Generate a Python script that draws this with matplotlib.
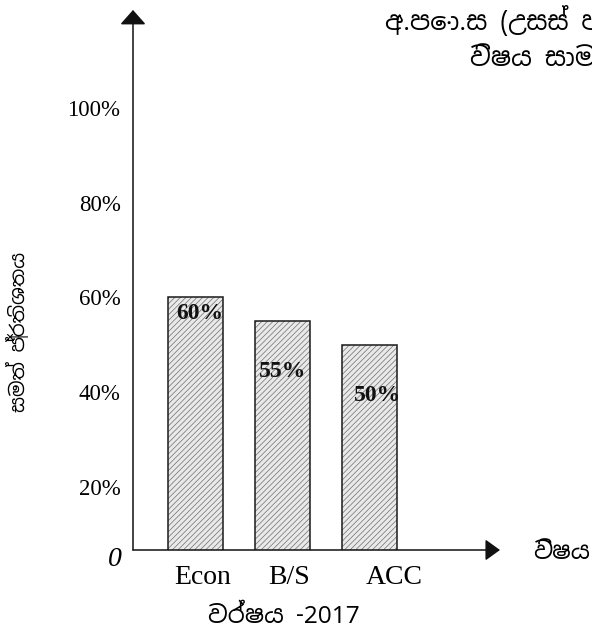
import matplotlib
matplotlib.use("Agg")
import matplotlib.pyplot as plt
import matplotlib.transforms as mtransforms
from matplotlib import font_manager

# Data
subjects = ["Econ", "B/S", "ACC"]
pass_rates = [60, 55, 50]
y_ticks = [20, 40, 60, 80, 100]
y_tick_labels = ["20%", "40%", "60%", "80%", "100%"]

title_line1 = "අ.පො.ස (උසස් පෙළ)"
title_line2 = "විෂය සාමාර්ථ ප්‍රතිශතය"
y_title = "සමත් ප්‍රතිශතය"
x_title = "විෂය"
year_label = "වර්ෂය -2017"

# Fonts: use a Sinhala face if one happens to be installed
sinhala = sorted({f.name for f in font_manager.fontManager.ttflist if "Sinhala" in f.name})
serif = ["Liberation Serif", "DejaVu Serif"]
sin_family = sinhala[:1] + serif + ["DejaVu Sans"]
plt.rcParams["font.family"] = serif
plt.rcParams["hatch.linewidth"] = 0.5

W, H = 592, 635
fig = plt.figure(figsize=(W / 100, H / 100), dpi=100)
ax = fig.add_axes([133 / W, (H - 550) / H, 367 / W, 540 / H])

x = list(range(len(subjects)))
ax.bar(x, pass_rates, width=0.632, color="#e9e9e9", edgecolor="#6e6e6e",
       hatch="//////", linewidth=0)
ax.bar(x, pass_rates, width=0.632, fill=False, edgecolor="#1a1a1a", linewidth=1.1)

ax.set_xlim(-0.718, 3.50)
ax.set_ylim(6.70, 120.68)

# Value labels inside the bars
label_dx = [0.05, 0.0, 0.09]
label_dy = [-3.3, -10.7, -10.6]
for i, v in enumerate(pass_rates):
    ax.text(x[i] + label_dx[i], v + label_dy[i], f"{v}%", ha="center", va="center",
            fontsize=17, fontweight="bold", color="#111111")

# Ticks
ax.set_yticks(y_ticks, y_tick_labels)
ax.set_xticks(x, subjects)
ax.tick_params(axis="y", length=0, pad=9, labelsize=16.5)
ax.tick_params(axis="x", length=0, pad=11, labelsize=20)
shift_pts = [5, 4.5, 18]
for lab, dx in zip(ax.get_xticklabels(), shift_pts):
    lab.set_transform(lab.get_transform() + mtransforms.ScaledTranslation(dx / 72, 0, fig.dpi_scale_trans))

ax.annotate("0", xy=(0, 0), xycoords="axes fraction", xytext=(-8, -6.5),
            textcoords="offset points", ha="right", va="center",
            fontsize=20, fontstyle="italic")

# Axes drawn as arrows
for s in ax.spines.values():
    s.set_visible(False)
ax.annotate("", xy=(0, 1), xytext=(0, 0), xycoords="axes fraction",
            arrowprops=dict(arrowstyle="-|>,head_length=0.9,head_width=0.8",
                            color="#111111", lw=1.1, shrinkA=0, shrinkB=0))
ax.annotate("", xy=(1, 0), xytext=(0, 0), xycoords="axes fraction",
            arrowprops=dict(arrowstyle="-|>,head_length=0.9,head_width=0.65",
                            color="#111111", lw=1.1, shrinkA=0, shrinkB=0))

# Sinhala captions (the title runs off the right edge, as in the source)
fig.text(385 / W, 1 - 20 / H, title_line1, family=sin_family, fontsize=18.5, va="center")
fig.text(470 / W, 1 - 57 / H, title_line2, family=sin_family, fontsize=18.5, va="center")
fig.text(19 / W, 1 - 332 / H, y_title, family=sin_family, fontsize=14,
         rotation=90, ha="center", va="center")
fig.text(533 / W, 1 - 553 / H, x_title, family=sin_family, fontsize=17, va="center")
fig.text(208 / W, 1 - 617 / H, year_label, family=sin_family, fontsize=17.5, va="center")

fig.savefig("out.png", dpi=100)
